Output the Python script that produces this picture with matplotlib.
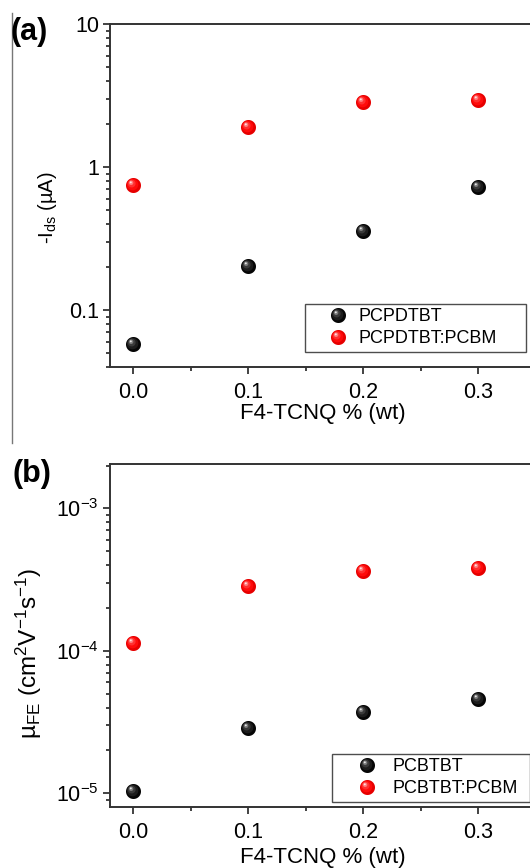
import numpy as np
import matplotlib
matplotlib.use("Agg")
import matplotlib.pyplot as plt
from matplotlib.path import Path
from matplotlib.lines import Line2D
from matplotlib.legend_handler import HandlerTuple
from matplotlib.ticker import FixedLocator, FixedFormatter, LogLocator, MultipleLocator, NullFormatter, LogFormatterSciNotation

plt.rcParams['font.family'] = ['Liberation Sans', 'DejaVu Sans']
plt.rcParams['mathtext.fontset'] = 'custom'
plt.rcParams['mathtext.rm'] = 'Liberation Sans'
plt.rcParams['mathtext.it'] = 'Liberation Sans:italic'
plt.rcParams['mathtext.bf'] = 'Liberation Sans:bold'

# ---- data ----
dopant_wt = [0.0, 0.1, 0.2, 0.3]
ids_pcpdtbt = [0.058, 0.204, 0.357, 0.728]
ids_pcpdtbt_pcbm = [0.75, 1.91, 2.83, 2.94]
mu_pcbtbt = [1.03e-5, 2.88e-5, 3.74e-5, 4.57e-5]
mu_pcbtbt_pcbm = [1.14e-4, 2.86e-4, 3.64e-4, 3.79e-4]
labels_a = ['PCPDTBT', 'PCPDTBT:PCBM']
labels_b = ['PCBTBT', 'PCBTBT:PCBM']
yticks_a = [0.1, 1, 10]
yticklabels_a = ['0.1', '1', '10']
xticks = [0.0, 0.1, 0.2, 0.3]
xticklabels = ['0.0', '0.1', '0.2', '0.3']

W, H = 530, 868
fig = plt.figure(figsize=(W / 100, H / 100), dpi=100)
AX_L, AX_R = 110, 532


def circ(cx, cy, r, n=72):
    t = np.linspace(0, 2 * np.pi, n)
    v = np.column_stack([cx + r * np.cos(t), cy + r * np.sin(t)])
    verts = np.vstack([[1.0, 0.0], v])
    codes = [Path.MOVETO, Path.MOVETO] + [Path.LINETO] * (n - 2) + [Path.CLOSEPOLY]
    return Path(verts, codes)


layer_geom = [(0, 0, 1.0), (-0.12, 0.12, 0.76), (-0.24, 0.26, 0.52), (-0.32, 0.36, 0.3), (-0.36, 0.42, 0.13)]
black_cols = ['#050505', '#1c1c1c', '#3a3a3a', '#7a7a7a', '#e8e8e8']
red_cols = ['#e60000', '#ff0b0b', '#ff3030', '#ff7a7a', '#ffe2e2']


class ShiftedTuple(HandlerTuple):
    def __init__(self, shift, **kw):
        super().__init__(ndivide=1, pad=0, **kw)
        self.shift = shift

    def create_artists(self, legend, orig_handle, xdescent, ydescent, width, height, fontsize, trans):
        return super().create_artists(legend, orig_handle, xdescent - self.shift, ydescent,
                                      width, height, fontsize, trans)


def sphere(ax, x, y, cols, ms=10.8):
    hs = []
    for (cx, cy, r), c in zip(layer_geom, cols):
        h, = ax.plot(x, y, linestyle='none', marker=circ(cx, cy, r), ms=ms,
                     mfc=c, mec='none', clip_on=False)
        hs.append(h)
    return tuple(hs)


def style(ax, label_top_px, bottom_px, height_px):
    ax.set_yscale('log')
    ax.set_xlim(-0.02, (AX_R - 133) / 1150)
    ax.xaxis.set_major_locator(FixedLocator(xticks))
    ax.xaxis.set_major_formatter(FixedFormatter(xticklabels))
    ax.xaxis.set_minor_locator(MultipleLocator(0.05))
    ax.tick_params(which='both', direction='out', top=False, right=False, labelsize=15.5, width=1.2, color='#222')
    ax.tick_params(which='major', length=5, pad=6)
    ax.tick_params(which='minor', length=3)
    ax.tick_params(axis='y', which='major', pad=3)
    for s in ax.spines.values():
        s.set_linewidth(1.4)
        s.set_color('#333')
    ax.spines['right'].set_visible(False)
    ax.set_xlabel('F4-TCNQ % (wt)', fontsize=16)
    ax.xaxis.set_label_coords((323 - AX_L) / (AX_R - AX_L), -(label_top_px - bottom_px) / height_px)


def box_legend(ax, handles, labels, box, shift, handlelength):
    x0, x1, y_top, y_bot = box
    lg = ax.legend(handles, labels, handler_map={tuple: ShiftedTuple(shift)},
                   loc='lower left', mode='expand',
                   bbox_to_anchor=(x0 / W, 1 - y_bot / H, (x1 - x0) / W, (y_bot - y_top) / H),
                   bbox_transform=fig.transFigure,
                   borderaxespad=0, fontsize=13, frameon=True, fancybox=False, edgecolor='#222',
                   handlelength=handlelength, handletextpad=0.5, borderpad=0.25, labelspacing=0.3,
                   numpoints=1)
    lg.get_frame().set_linewidth(1.0)
    return lg


# ---- panel (a) ----
a_top, a_bot = 24, 367
axa = fig.add_axes([AX_L / W, 1 - a_bot / H, (AX_R - AX_L) / W, (a_bot - a_top) / H])
style(axa, 403, a_bot, a_bot - a_top)
axa.set_ylim(0.04, 10)
axa.yaxis.set_major_locator(FixedLocator(yticks_a))
axa.yaxis.set_major_formatter(FixedFormatter(yticklabels_a))
axa.yaxis.set_minor_locator(LogLocator(base=10, subs=np.arange(2, 10)))
axa.yaxis.set_minor_formatter(NullFormatter())
ha1 = sphere(axa, dopant_wt, ids_pcpdtbt, black_cols)
ha2 = sphere(axa, dopant_wt, ids_pcpdtbt_pcbm, red_cols)
axa.set_ylabel('-I$_{\\rm ds}$ (\u00b5A)', fontsize=14.5)
axa.yaxis.set_label_coords((59 - AX_L) / (AX_R - AX_L), (a_bot - 208) / (a_bot - a_top))
box_legend(axa, [ha1, ha2], labels_a, (305, 526, 304, 352), 6.3, 2.19)

# ---- panel (b) ----
b_top, b_bot = 464, 806.7
axb = fig.add_axes([AX_L / W, 1 - b_bot / H, (AX_R - AX_L) / W, (b_bot - b_top) / H])
style(axb, 847, b_bot, b_bot - b_top)
axb.set_ylim(8.05e-6, 2.05e-3)
axb.yaxis.set_major_locator(LogLocator(base=10, numticks=10))
axb.yaxis.set_major_formatter(LogFormatterSciNotation())
axb.yaxis.set_minor_locator(LogLocator(base=10, subs=np.arange(2, 10), numticks=20))
axb.yaxis.set_minor_formatter(NullFormatter())
hb1 = sphere(axb, dopant_wt, mu_pcbtbt, black_cols)
hb2 = sphere(axb, dopant_wt, mu_pcbtbt_pcbm, red_cols)
axb.set_ylabel('\u00b5$_{\\rm FE}$ (cm$^{2}$V$^{-1}$s$^{-1}$)', fontsize=17.5)
axb.yaxis.set_label_coords((44 - AX_L) / (AX_R - AX_L), (b_bot - 653.5) / (b_bot - b_top))
box_legend(axb, [hb1, hb2], labels_b, (332, 529.5, 754, 802), 5.2, 2.58)

# panel tags and separator
fig.text(11 / W, 1 - 17 / H, '(a)', fontsize=22, fontweight='bold', va='top', ha='left')
fig.text(12 / W, 1 - 459 / H, '(b)', fontsize=22, fontweight='bold', va='top', ha='left')
fig.add_artist(Line2D([12 / W, 12 / W], [1 - 13 / H, 1 - 443 / H], color='#777', lw=1.0))

fig.savefig('out.png', dpi=100)
